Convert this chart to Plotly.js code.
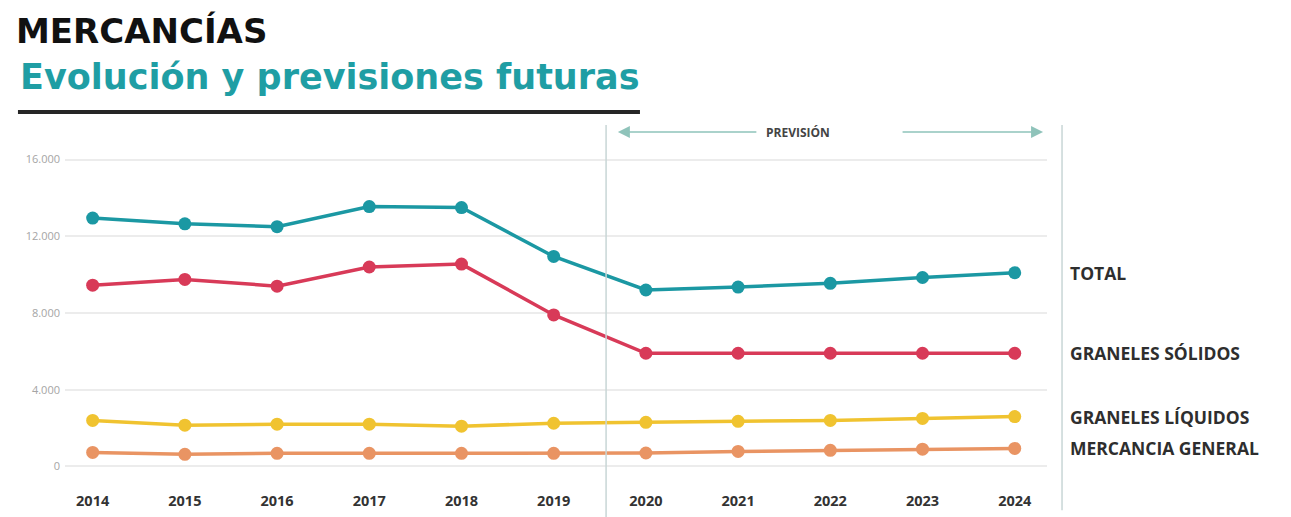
<!DOCTYPE html>
<html>
<head>
<meta charset="utf-8">
<script src="https://cdn.plot.ly/plotly-3.0.1.min.js"></script>
<style>html,body{margin:0;padding:0;background:#fff;}#chart{width:1291px;height:517px;}</style>
</head>
<body>
<div id="chart"></div>
<script>
const years = ['2014','2015','2016','2017','2018','2019','2020','2021','2022','2023','2024'];
const total = [12950, 12650, 12500, 13550, 13500, 10950, 9200, 9350, 9550, 9850, 10100];
const granelesSolidos = [9450, 9750, 9400, 10400, 10550, 7900, 5900, 5900, 5900, 5900, 5900];
const granelesLiquidos = [2400, 2150, 2200, 2200, 2100, 2250, 2300, 2350, 2400, 2500, 2600];
const mercanciaGeneral = [730, 630, 680, 680, 680, 680, 700, 780, 840, 900, 940];
const seriesNames = ['TOTAL', 'GRANELES SÓLIDOS', 'GRANELES LÍQUIDOS', 'MERCANCIA GENERAL'];
const yTickVals = [0, 4000, 8000, 12000, 16000];
const yTickText = ['0', '4.000', '8.000', '12.000', '16.000'];

const colors = ['#1b98a3', '#d83a58', '#f0c330', '#e99463'];
const seriesData = [total, granelesSolidos, granelesLiquidos, mercanciaGeneral];

const traces = seriesData.map((vals, i) => ({
  x: years, y: vals, type: 'scatter', mode: 'lines+markers', name: seriesNames[i],
  line: {color: colors[i], width: 3.5},
  marker: {color: colors[i], size: 13},
  showlegend: false, hoverinfo: 'x+y'
}));

const labelFont = {family: 'Open Sans, sans-serif', size: 17.5, color: '#2e2e2e'};
const annotations = seriesNames.map((n, i) => ({
  xref: 'paper', yref: 'y', x: 1.021, xanchor: 'left',
  y: seriesData[i][seriesData[i].length - 1],
  text: '<b>' + n + '</b>', showarrow: false, font: labelFont
}));

annotations.push({
  xref: 'paper', yref: 'paper', x: -0.0479, xanchor: 'left', y: 1.224, yanchor: 'middle',
  text: '<b>Evolución y previsiones futuras</b>', showarrow: false,
  font: {family: 'DejaVu Sans, sans-serif', size: 35, color: '#1f9ea4'}
});
annotations.push({
  xref: 'paper', yref: 'paper', x: 0.781, y: 1.055, yanchor: 'middle', text: '<b>PREVISIÓN</b>', showarrow: false,
  font: {family: 'Open Sans, sans-serif', size: 12, color: '#444'}
});
annotations.push({
  xref: 'paper', yref: 'paper', x: 0.563, y: 1.055, ax: 140, ay: 0, text: '', showarrow: true,
  arrowhead: 2, arrowsize: 1.6, arrowwidth: 1.5, arrowcolor: '#8fc3ba'
});
annotations.push({
  xref: 'paper', yref: 'paper', x: 0.996, y: 1.055, ax: -142, ay: 0, text: '', showarrow: true,
  arrowhead: 2, arrowsize: 1.6, arrowwidth: 1.5, arrowcolor: '#8fc3ba'
});

const layout = {
  width: 1291, height: 517,
  margin: {l: 65, r: 244, t: 150, b: 41},
  paper_bgcolor: '#fff', plot_bgcolor: '#fff',
  title: {
    text: '<b>MERCANCÍAS</b>', x: 16/1291, xanchor: 'left', xref: 'container',
    y: 1 - 31/517, yanchor: 'middle', yref: 'container',
    font: {family: 'DejaVu Sans, sans-serif', size: 34, color: '#111'}
  },
  xaxis: {
    type: 'category', range: [-0.3, 10.35], showgrid: false, zeroline: false, showline: false,
    ticks: '', ticklabelstandoff: 14,
    tickfont: {family: 'Open Sans, sans-serif', size: 14.5, color: '#333', weight: 'bold'}
  },
  yaxis: {
    range: [-500, 16500], tickvals: yTickVals, ticktext: yTickText,
    showgrid: true, gridcolor: '#ececec', gridwidth: 1.5, zeroline: false, showline: false,
    ticks: '', ticklabelstandoff: 4,
    tickfont: {family: 'Open Sans, sans-serif', size: 11, color: '#a5a5a5'}
  },
  shapes: [
    {type: 'line', xref: 'paper', yref: 'paper', x0: -0.0479, x1: 0.5855, y0: 1.1166, y1: 1.1166,
     line: {color: '#262626', width: 4}},
    {type: 'line', xref: 'paper', yref: 'paper', x0: 0.551, x1: 0.551, y0: -0.126, y1: 1.077,
     line: {color: '#c8d6d6', width: 1.5}},
    {type: 'line', xref: 'paper', yref: 'paper', x0: 1.0153, x1: 1.0153, y0: -0.105, y1: 1.077,
     line: {color: '#c8d6d6', width: 1.5}}
  ],
  annotations: annotations
};

Plotly.newPlot('chart', traces, layout, {displayModeBar: false, responsive: false});
</script>
</body>
</html>
